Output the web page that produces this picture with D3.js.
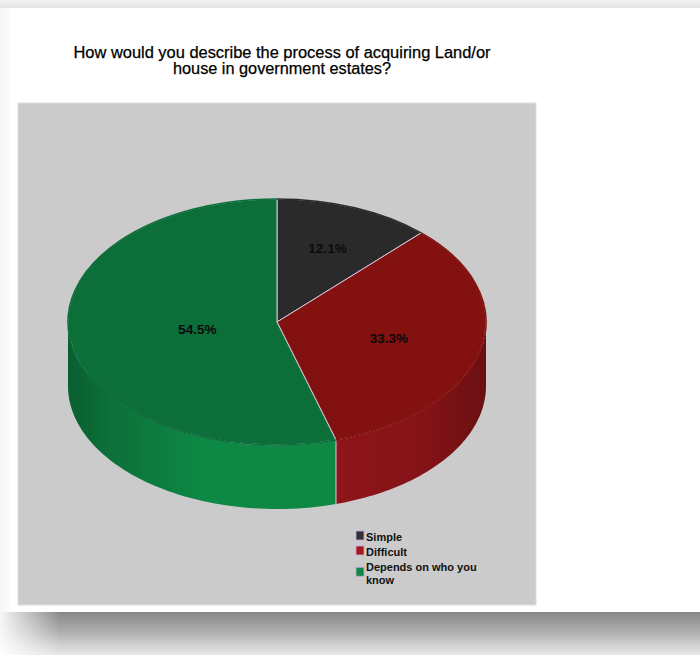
<!DOCTYPE html>
<html><head><meta charset="utf-8">
<script src="https://cdn.jsdelivr.net/npm/d3@7"></script>
<style>body{margin:0;background:#fff}svg{display:block}</style>
</head><body>
<script>
// ---- data ----
const categories = ["Simple", "Difficult", "Depends on who you know"];
const percentages = [12.1, 33.3, 54.5];
const percentLabels = ["12.1%", "33.3%", "54.5%"];
const titleLines = ["How would you describe the process of acquiring Land/or", "house in government estates?"];

const W = 700, H = 655;
const svg = d3.select("body").append("svg").attr("width", W).attr("height", H);
const defs = svg.append("defs");

// ---- page background / card shadow ----
const gTop = defs.append("linearGradient").attr("id","gtop").attr("x1",0).attr("y1",0).attr("x2",0).attr("y2",1);
gTop.append("stop").attr("offset","0%").attr("stop-color","#f2f2f2");
gTop.append("stop").attr("offset","100%").attr("stop-color","#e4e4e4");
svg.append("rect").attr("x",0).attr("y",0).attr("width",W).attr("height",8).attr("fill","url(#gtop)");
const gLeft = defs.append("linearGradient").attr("id","gleft").attr("x1",0).attr("y1",0).attr("x2",1).attr("y2",0);
gLeft.append("stop").attr("offset","0%").attr("stop-color","#f6f6f6");
gLeft.append("stop").attr("offset","100%").attr("stop-color","#fdfdfd");
svg.append("rect").attr("x",0).attr("y",8).attr("width",10).attr("height",604).attr("fill","url(#gleft)");
const gBot = defs.append("linearGradient").attr("id","gbot").attr("x1",0).attr("y1",0).attr("x2",0).attr("y2",1);
[["0%","#888888"],["25%","#9c9c9c"],["50%","#b2b2b2"],["75%","#cfcfcf"],["100%","#e8e8e8"]]
  .forEach(s => gBot.append("stop").attr("offset",s[0]).attr("stop-color",s[1]));
svg.append("rect").attr("x",0).attr("y",612).attr("width",W).attr("height",43).attr("fill","url(#gbot)");
const gFade = defs.append("linearGradient").attr("id","gfade").attr("x1",0).attr("y1",0).attr("x2",1).attr("y2",0);
gFade.append("stop").attr("offset","0%").attr("stop-color","#ffffff").attr("stop-opacity",0.92);
gFade.append("stop").attr("offset","100%").attr("stop-color","#ffffff").attr("stop-opacity",0);
svg.append("rect").attr("x",0).attr("y",612).attr("width",60).attr("height",43).attr("fill","url(#gfade)");

// ---- plot area ----
svg.append("rect").attr("x",18).attr("y",103).attr("width",518).attr("height",502)
  .attr("fill","#cbcbcb").attr("stroke","#dedede").attr("stroke-width",1);

// ---- title ----
const titleWidths = [417, 218];
svg.append("g").selectAll("text").data(titleLines).join("text")
  .attr("x", 282).attr("y", (d,i) => 58 + i*16)
  .attr("text-anchor","middle")
  .attr("font-family","'Liberation Sans', Arial, sans-serif")
  .attr("font-size", 16)
  .attr("textLength", (d,i) => titleWidths[i]).attr("lengthAdjust","spacingAndGlyphs")
  .attr("fill","#000").attr("stroke","#000").attr("stroke-width",0.25)
  .text(d => d);

// ---- pie geometry ----
const cx = 277, cy = 322, rx = 209, ry = 123, depth = 64;
const topColor = d3.scaleOrdinal().domain(categories).range(["#2a2a2a", "#82110f", "#0c6e39"]);
const sideColor = d3.scaleOrdinal().domain(categories).range(["#333333", "#8f1519", "#0e8845"]);
const legendColor = d3.scaleOrdinal().domain(categories).range(["#333333", "#a8191c", "#0e8a45"]);

const pie = d3.pie().sort(null).value(d => d.v).startAngle(0).endAngle(2*Math.PI);
const arcs = pie(categories.map((c,i) => ({c, v: percentages[i], lab: percentLabels[i]})));

const px = t => cx + rx*Math.sin(t);
const py = t => cy - ry*Math.cos(t);

// side gradients (cylinder shading)
const shade = [[0,0.70],[0.1,0.82],[0.32,1.0],[0.64,1.0],[0.85,0.92],[1,0.74]];
categories.forEach((c,i) => {
  const g = defs.append("linearGradient").attr("id","side"+i)
    .attr("gradientUnits","userSpaceOnUse").attr("x1",cx-rx).attr("y1",0).attr("x2",cx+rx).attr("y2",0);
  const base = d3.rgb(sideColor(c));
  shade.forEach(s => {
    const k = s[1];
    g.append("stop").attr("offset", s[0]).attr("stop-color", d3.rgb(base.r*k, base.g*k, base.b*k).toString());
  });
});

// side walls (visible lower half: angles PI/2 .. 3PI/2)
const sideG = svg.append("g");
const line = d3.line();
arcs.forEach((a,i) => {
  const s = Math.max(a.startAngle, Math.PI/2), e = Math.min(a.endAngle, 3*Math.PI/2);
  if (e <= s) return;
  const n = 60, pts = [];
  for (let k=0;k<=n;k++){ const t = s + (e-s)*k/n; pts.push([px(t), py(t)]); }
  for (let k=n;k>=0;k--){ const t = s + (e-s)*k/n; pts.push([px(t), py(t)+depth]); }
  sideG.append("path").attr("d", line(pts)+"Z").attr("fill","url(#side"+i+")");
});
arcs.forEach(a => {
  const t = a.startAngle;
  if (t > Math.PI/2 && t < 3*Math.PI/2) {
    sideG.append("line").attr("x1",px(t)).attr("y1",py(t)).attr("x2",px(t)).attr("y2",py(t)+depth)
      .attr("stroke","#d9cde3").attr("stroke-width",1);
  }
});

// top faces
const arcGen = d3.arc().innerRadius(0).outerRadius(rx);
svg.append("g").attr("transform",`translate(${cx},${cy}) scale(1,${ry/rx})`)
  .selectAll("path").data(arcs).join("path")
  .attr("d", arcGen)
  .attr("fill", d => topColor(d.data.c))
  .attr("stroke","#d4c6e0").attr("stroke-width",1)
  .attr("vector-effect","non-scaling-stroke");
svg.append("g").attr("transform",`translate(${cx},${cy}) scale(1,${ry/rx})`)
  .selectAll("path").data(arcs).join("path")
  .attr("d", d3.arc().innerRadius(rx).outerRadius(rx))
  .attr("fill","none")
  .attr("stroke", d => topColor(d.data.c)).attr("stroke-width",1.5)
  .attr("vector-effect","non-scaling-stroke");

// labels at sector centroids
svg.append("g").selectAll("text").data(arcs).join("text")
  .attr("x", d => { const al=(d.endAngle-d.startAngle)/2, m=(d.startAngle+d.endAngle)/2, r=(2/3)*Math.sin(al)/al; return cx + r*rx*Math.sin(m); })
  .attr("y", d => { const al=(d.endAngle-d.startAngle)/2, m=(d.startAngle+d.endAngle)/2, r=(2/3)*Math.sin(al)/al; return cy - r*ry*Math.cos(m) + 5; })
  .attr("text-anchor","middle")
  .attr("font-family","'Liberation Sans', Arial, sans-serif")
  .attr("font-size", 13.5).attr("font-weight","bold")
  .attr("fill","#0a0a0a")
  .text(d => d.data.lab);

// ---- legend ----
const lg = svg.append("g").attr("font-family","'Liberation Sans', Arial, sans-serif")
  .attr("font-size", 11).attr("font-weight","bold").attr("fill","#111");
let base = 541;
const lineH = 12.5, maxW = 115;
categories.forEach(c => {
  const t = lg.append("text").attr("x", 366).attr("y", base);
  const words = c.split(" "); let cur = [], lines = [];
  const probe = lg.append("text").attr("visibility","hidden");
  words.forEach(w => {
    const test = cur.concat([w]).join(" ");
    probe.text(test);
    if (probe.node().getComputedTextLength() > maxW && cur.length) { lines.push(cur.join(" ")); cur=[w]; }
    else cur.push(w);
  });
  lines.push(cur.join(" ")); probe.remove();
  lines.forEach((l,k) => t.append("tspan").attr("x",366).attr("y", base + k*lineH).text(l));
  const mid = base - 5.5 + (lines.length-1)*lineH/2;
  lg.append("rect").attr("x",356).attr("y", mid-4.5).attr("width",8).attr("height",9)
    .attr("fill", legendColor(c)).attr("stroke","#c9a6dc").attr("stroke-width",0.8);
  base += lines.length*lineH + 2.5;
});
</script>
</body></html>
